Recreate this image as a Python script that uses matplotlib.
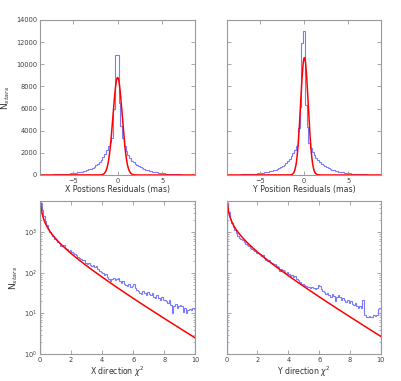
import numpy as np
import matplotlib
matplotlib.use("Agg")
import matplotlib.pyplot as plt

# residual histograms (bin width 0.2 mas, -8.7 .. 8.7)
res_edges = np.linspace(-8.7, 8.7, 88)
x_res_counts = [
    17, 19, 22, 25, 28, 32, 37, 42, 48, 55, 62, 70, 80, 90, 100, 115, 130, 150,
    170, 190, 215, 245, 275, 310, 350, 400, 450, 510, 580, 660, 760, 870, 1000,
    1150, 1350, 1600, 1900, 2300, 2600, 3000, 3300, 6000,
    10800, 10800,
    6500, 4400, 3300, 2600, 2200, 1800, 1550, 1300, 1150, 1000, 880, 780, 690,
    610, 540, 480, 420, 370, 330, 290, 260, 230, 200, 180, 160, 140, 125, 110,
    97, 86, 76, 67, 59, 52, 46, 40, 35, 31, 27, 24, 21, 18, 16,
]
y_res_counts = [
    17, 19, 22, 25, 28, 32, 36, 41, 47, 53, 60, 68, 77, 87, 98, 112, 128, 145,
    165, 185, 210, 235, 265, 300, 335, 380, 430, 490, 560, 630, 720, 820, 940,
    1080, 1250, 1450, 1700, 2000, 2300, 2600, 4250, 6170,
    11950, 13000,
    6300, 4300, 2900, 2400, 2100, 1800, 1550, 1320, 1150, 1000, 880, 780, 690,
    610, 540, 480, 420, 370, 330, 290, 260, 230, 200, 180, 160, 140, 125, 110,
    97, 86, 76, 67, 59, 52, 46, 40, 35, 31, 27, 24, 21, 18, 16,
]
# gaussian fits: amplitude, centre, sigma
x_gauss = (8800, 0.0, 0.52)
y_gauss = (10600, 0.05, 0.43)

# chi^2 histograms (bin width 0.1, 0 .. 10)
chi_edges = np.linspace(0, 10, 101)
x_chi_counts = [
    5500, 3600, 2500, 1900, 1500, 1250, 1050, 900, 800, 700,
    640, 580, 540, 470, 460, 480, 420, 400, 350, 370,
    330, 310, 300, 280, 250, 240, 220, 205, 210, 180,
    165, 175, 155, 150, 160, 140, 150, 125, 115, 105,
    100, 90, 95, 80, 72, 65, 70, 75, 68, 72,
    75, 62, 58, 65, 55, 50, 48, 52, 45, 48,
    55, 42, 38, 36, 32, 30, 35, 32, 28, 34,
    30, 28, 32, 26, 24, 28, 24, 22, 25, 21,
    22, 20, 18, 21, 16, 10, 15, 17, 14, 15,
    16, 15, 11, 14, 10, 12, 13, 12, 14, 13,
]
y_chi_counts = [
    5500, 3200, 2100, 1700, 1400, 1150, 950, 820, 740, 680,
    640, 580, 530, 480, 460, 420, 400, 370, 340, 320,
    310, 290, 270, 280, 240, 215, 200, 205, 190, 175,
    170, 165, 150, 140, 115, 125, 120, 110, 100, 105,
    95, 85, 90, 78, 85, 70, 66, 60, 55, 52,
    50, 47, 45, 44, 42, 45, 43, 40, 42, 50,
    48, 40, 36, 34, 30, 32, 29, 26, 30, 27,
    20, 25, 28, 26, 22, 24, 22, 19, 21, 18,
    20, 17, 16, 18, 15, 14, 15, 14, 22, 9,
    8, 8, 8.5, 8, 8, 9, 8.5, 9, 13, 14,
]
# chi^2 (1 dof) fits: amplitude
x_chi_amp = 1170
y_chi_amp = 1270

BLUE = "#3333ff"
RED = "red"
plt.rcParams["font.family"] = "DejaVu Sans"

fig = plt.figure(figsize=(4.01, 3.81), dpi=100)
ax_tl = fig.add_axes([0.0998, 0.5407, 0.387, 0.407])
ax_tr = fig.add_axes([0.566, 0.5407, 0.384, 0.407])
ax_bl = fig.add_axes([0.0998, 0.0709, 0.387, 0.4016])
ax_br = fig.add_axes([0.565, 0.0709, 0.385, 0.4016])


def style(ax):
    for s in ax.spines.values():
        s.set_color("0.6")
        s.set_linewidth(0.8)
    ax.tick_params(which="both", direction="in", top=True, right=True,
                   colors="0.6", labelcolor="0.25", labelsize=4.8, pad=2)
    ax.tick_params(which="major", length=3, width=0.6)
    ax.tick_params(which="minor", length=1.5, width=0.5)


xx = np.linspace(-8.7, 8.7, 600)
for ax, counts, (amp, mu, sig), lab in [
    (ax_tl, x_res_counts, x_gauss, "X Postions Residuals (mas)"),
    (ax_tr, y_res_counts, y_gauss, "Y Position Residuals (mas)"),
]:
    ax.stairs(counts, res_edges, color=BLUE, alpha=0.65, lw=0.8)
    ax.plot(xx, amp * np.exp(-0.5 * ((xx - mu) / sig) ** 2), color=RED, lw=1.1)
    ax.set_xlim(-8.7, 8.7)
    ax.set_ylim(0, 14000)
    ax.set_xticks([-5, 0, 5])
    ax.set_yticks(range(0, 14001, 2000))
    ax.set_xlabel(lab, fontsize=5.6, labelpad=1, color="0.2")
    style(ax)
ax_tr.set_yticklabels([])
ax_tl.set_ylabel(r"$\mathrm{N}_{stars}$", fontsize=6.5, color="0.2")
ax_tl.yaxis.set_label_coords(-0.18, 0.5)

cx = np.linspace(0.02, 10, 500)
for ax, counts, amp, lab in [
    (ax_bl, x_chi_counts, x_chi_amp, r"X direction $\chi^2$"),
    (ax_br, y_chi_counts, y_chi_amp, r"Y direction $\chi^2$"),
]:
    ax.set_yscale("log")
    ax.stairs(counts, chi_edges, color=BLUE, alpha=0.65, lw=0.8)
    ax.vlines(chi_edges[0], 0.5, counts[0], color=BLUE, alpha=0.65, lw=0.8)
    ax.plot(cx, amp * cx ** -0.5 * np.exp(-cx / 2), color=RED, lw=1.1)
    ax.set_xlim(0, 10)
    ax.set_ylim(1, 6000)
    ax.set_xticks(range(0, 11, 2))
    ax.set_xlabel(lab, fontsize=5.6, labelpad=1, color="0.2")
    style(ax)
ax_br.tick_params(which="both", labelleft=False)
ax_bl.set_ylabel(r"$\mathrm{N}_{stars}$", fontsize=6.5, color="0.2")
ax_bl.yaxis.set_label_coords(-0.13, 0.5)

fig.savefig("out.png", dpi=100)
